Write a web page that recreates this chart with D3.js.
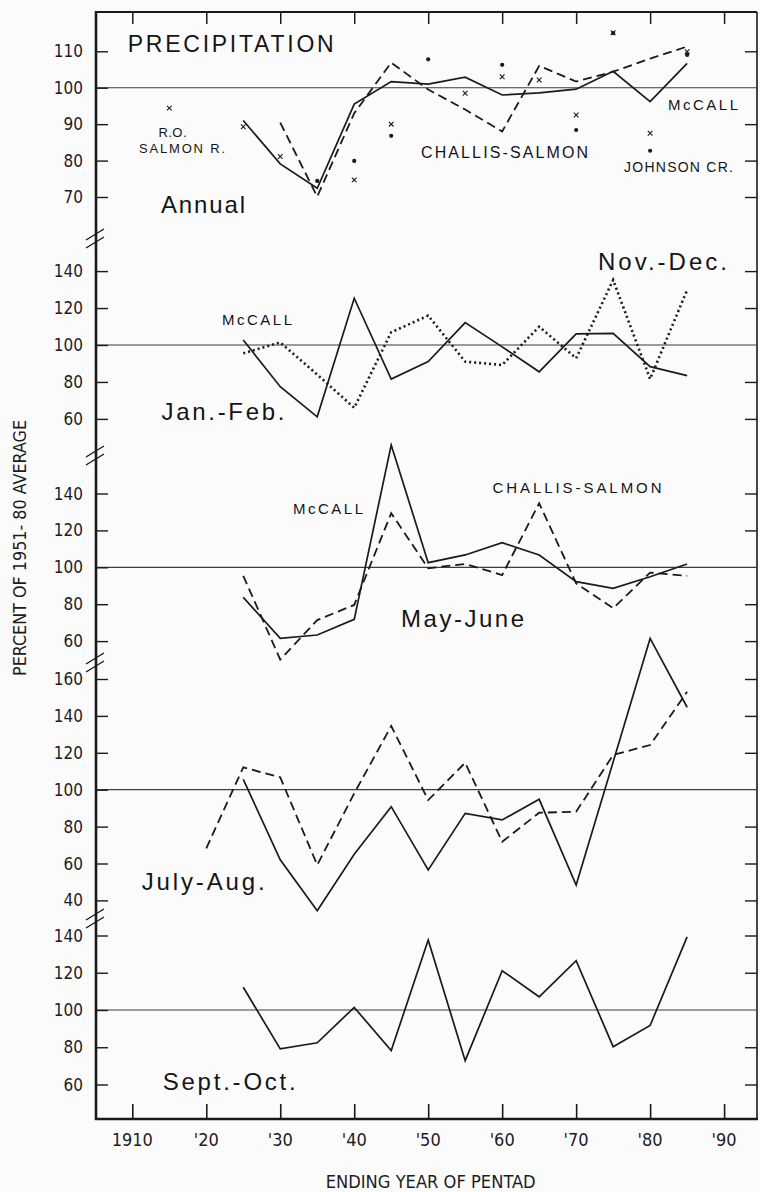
<!DOCTYPE html>
<html>
<head>
<meta charset="utf-8">
<script src="https://cdn.jsdelivr.net/npm/d3@7"></script>
<style>
  html, body { margin: 0; padding: 0; background: #fcfbfc; }
  svg { display: block; }
  .tick-label { font-family: "Liberation Sans Narrow", "DejaVu Sans Condensed", "Roboto Condensed", sans-serif; font-size: 17px; fill: #1c1c1c; }
  .ann { font-family: "Liberation Sans", Arial, Helvetica, sans-serif; fill: #151515; }
</style>
</head>
<body>
<svg id="chart" width="760" height="1192"></svg>
<script>
// Ending year of each pentad
const pentads = [1925, 1930, 1935, 1940, 1945, 1950, 1955, 1960, 1965, 1970, 1975, 1980, 1985];

// Annual precipitation, percent of 1951-80 average
const annualMcCall   = [91, 79.1, 72.4, 95.5, 101.7, 101, 102.9, 98, 98.6, 99.6, 104.5, 96.2, 106.7];
const annualChallisYears = [1930, 1935, 1940, 1945, 1950, 1955, 1960, 1965, 1970, 1975, 1980, 1985];
const annualChallis  = [90.4, 70.1, 93, 106.9, 99.5, 94, 88, 106, 101.7, 104.4, 108, 111.3];
const salmonYears    = [1915, 1925, 1930, 1940, 1945, 1955, 1960, 1965, 1970, 1975, 1980, 1985];
const salmonR        = [94.4, 89.3, 81.1, 74.7, 90, 98.5, 103, 102.1, 92.5, 115.1, 87.5, 109.9];
const johnsonYears   = [1935, 1940, 1945, 1950, 1960, 1970, 1975, 1980, 1985];
const johnsonCr      = [74.4, 79.9, 86.8, 107.8, 106.3, 88.4, 115, 82.7, 109];

// Winter pentads (McCall)
const janFebMcCall   = [102.7, 77.4, 61.1, 125.3, 81.6, 91, 112.1, 99, 85.5, 106, 106.3, 88.3, 83.4];
const novDecMcCall   = [95.5, 101.4, 84, 66, 106.9, 115.9, 91, 89.2, 109.9, 92.8, 135.2, 81.6, 129.8];

// May-June
const mayJunMcCall   = [83.7, 61.5, 63.3, 71.8, 166.3, 102.5, 106.7, 113.3, 106.7, 92.2, 88.6, 94.9, 101.8];
const mayJunChallis  = [95.4, 50, 71.4, 79.6, 129.3, 99.5, 101.8, 95.8, 134.7, 91.3, 77.8, 97.1, 95.4];

// July-August
const julAugMcCall   = [105.6, 62, 34.4, 65, 90.8, 56.5, 87.2, 83.6, 94.8, 48.3, 115, 182, 144.7];
const julAugChallisYears = [1920, 1925, 1930, 1935, 1940, 1945, 1950, 1955, 1960, 1965, 1970, 1975, 1980, 1985];
const julAugChallis  = [68.2, 112.1, 106.7, 59.2, 98, 134.5, 94.4, 114.6, 71.8, 87.5, 88.1, 118.8, 124.2, 153.1];

// September-October
const sepOctMcCall   = [112.2, 79.1, 82.4, 101.4, 78.2, 137.6, 72.8, 121.1, 107.1, 126.5, 80.3, 91.7, 139.3];

// Axis tick values and labels
const decadeTicks  = [1910, 1920, 1930, 1940, 1950, 1960, 1970, 1980, 1990];
const decadeLabels = ["1910", "'20", "'30", "'40", "'50", "'60", "'70", "'80", "'90"];
const annualTicks  = [70, 80, 90, 100, 110];
const seasonTicks  = [60, 80, 100, 120, 140];
const summerTicks  = [40, 60, 80, 100, 120, 140, 160];

// ---- layout ----
const svg = d3.select("#chart");
const frameL = 96, frameR = 757, frameT = 12, frameB = 1119;
const ink = "#1a1a1a";

const x = d3.scaleLinear().domain([1910, 1990]).range([132.3, 724.1]);

// one vertical scale per stacked panel
const yAnnual = d3.scaleLinear().domain([70, 110]).range([197.0, 51.3]);
const yWinter = d3.scaleLinear().domain([60, 140]).range([418.9, 271.1]);
const ySpring = d3.scaleLinear().domain([60, 140]).range([641.1, 493.5]);
const ySummer = d3.scaleLinear().domain([40, 160]).range([900.4, 679.0]);
const yAutumn = d3.scaleLinear().domain([60, 140]).range([1084.5, 935.5]);

const panels = [
  { y: yAnnual, ticks: annualTicks },
  { y: yWinter, ticks: seasonTicks },
  { y: ySpring, ticks: seasonTicks },
  { y: ySummer, ticks: summerTicks },
  { y: yAutumn, ticks: seasonTicks }
];
const breaks = [238, 455, 662, 918];

// frame: top and right borders
svg.append("line").attr("x1", frameL).attr("x2", frameR).attr("y1", frameT).attr("y2", frameT)
  .attr("stroke", ink).attr("stroke-width", 2);
svg.append("line").attr("x1", frameR).attr("x2", frameR).attr("y1", frameT).attr("y2", frameB)
  .attr("stroke", ink).attr("stroke-width", 1.6);

// reference lines at 100 percent and tick marks on both sides
panels.forEach(p => {
  const g = svg.append("g");
  g.append("line").attr("x1", frameL).attr("x2", frameR)
    .attr("y1", p.y(100)).attr("y2", p.y(100))
    .attr("stroke", "#3c3c3c").attr("stroke-width", 1.2);
  const rightAxis = d3.axisLeft(p.y).tickValues(p.ticks.filter(v => v !== 100))
    .tickSize(12).tickFormat("");
  const ra = g.append("g").attr("transform", `translate(${frameR},0)`).call(rightAxis);
  ra.select(".domain").remove();
  ra.selectAll("line").attr("stroke", ink).attr("stroke-width", 1.4);
  const leftAxis = d3.axisRight(p.y).tickValues(p.ticks).tickSize(12).tickFormat("");
  const la = g.append("g").attr("transform", `translate(${frameL},0)`).call(leftAxis);
  la.select(".domain").remove();
  la.selectAll("line").attr("stroke", ink).attr("stroke-width", 1.4);
  g.selectAll("text.tick-label").data(p.ticks).join("text")
    .attr("class", "tick-label")
    .attr("x", 83).attr("y", d => p.y(d))
    .attr("text-anchor", "end").attr("dominant-baseline", "central")
    .text(d => d);
});

// top and bottom decade ticks
const topAxis = d3.axisBottom(x).tickValues(decadeTicks).tickSize(12).tickFormat("");
const ta = svg.append("g").attr("transform", `translate(0,${frameT})`).call(topAxis);
ta.select(".domain").remove();
ta.selectAll("line").attr("stroke", ink).attr("stroke-width", 1.5);

const bottomAxis = d3.axisTop(x).tickValues(decadeTicks).tickSize(15).tickFormat("");
const ba = svg.append("g").attr("transform", `translate(0,${frameB})`).call(bottomAxis);
ba.select(".domain").remove();
ba.selectAll("line").attr("stroke", ink).attr("stroke-width", 1.6);

svg.append("g").selectAll("text").data(decadeTicks).join("text")
  .attr("class", "tick-label")
  .attr("x", d => x(d)).attr("y", 1146)
  .attr("text-anchor", "middle")
  .style("font-size", "18px")
  .text((d, i) => decadeLabels[i]);

// left axis and bottom axis lines
svg.append("line").attr("x1", frameL).attr("x2", frameL).attr("y1", frameT - 1).attr("y2", frameB + 1)
  .attr("stroke", ink).attr("stroke-width", 2.6);
svg.append("line").attr("x1", frameL - 1).attr("x2", frameR + 1).attr("y1", frameB).attr("y2", frameB)
  .attr("stroke", ink).attr("stroke-width", 2.6);

// scale-break marks on the left axis
breaks.forEach(b => {
  [-4, 4].forEach(off => {
    svg.append("line")
      .attr("x1", frameL - 10).attr("y1", b + off + 6)
      .attr("x2", frameL + 8).attr("y2", b + off - 5)
      .attr("stroke", ink).attr("stroke-width", 1.4);
  });
});

// ---- series ----
function series(years, values, y, style) {
  const pts = years.map((yr, i) => [yr, values[i]]);
  const line = d3.line().x(d => x(d[0])).y(d => y(d[1]));
  const path = svg.append("path").datum(pts)
    .attr("d", line).attr("fill", "none")
    .attr("stroke", ink).attr("stroke-linejoin", "miter");
  if (style === "solid") path.attr("stroke-width", 1.7);
  if (style === "dashed") path.attr("stroke-width", 1.8).attr("stroke-dasharray", "9,5");
  if (style === "dotted") path.attr("stroke-width", 2.6).attr("stroke-dasharray", "2,3");
  return path;
}

series(pentads, annualMcCall, yAnnual, "solid");
series(annualChallisYears, annualChallis, yAnnual, "dashed");
series(pentads, janFebMcCall, yWinter, "solid");
series(pentads, novDecMcCall, yWinter, "dotted");
series(pentads, mayJunMcCall, ySpring, "solid");
series(pentads, mayJunChallis, ySpring, "dashed");
series(pentads, julAugMcCall, ySummer, "solid");
series(julAugChallisYears, julAugChallis, ySummer, "dashed");
series(pentads, sepOctMcCall, yAutumn, "solid");

// annual station markers: crosses (R.O. Salmon R.) and dots (Johnson Cr.)
svg.append("g").selectAll("path").data(salmonYears.map((yr, i) => [yr, salmonR[i]])).join("path")
  .attr("d", d3.symbol(d3.symbolX, 16))
  .attr("transform", d => `translate(${x(d[0])},${yAnnual(d[1])})`)
  .attr("fill", "none").attr("stroke", ink).attr("stroke-width", 1.1);
svg.append("g").selectAll("circle").data(johnsonYears.map((yr, i) => [yr, johnsonCr[i]])).join("circle")
  .attr("cx", d => x(d[0])).attr("cy", d => yAnnual(d[1])).attr("r", 2.1)
  .attr("fill", ink);

// ---- annotations ----
const notes = [
  { t: "PRECIPITATION", x: 127.7, y: 52, size: 23, w: 206 },
  { t: "R.O.", x: 158.5, y: 137, size: 13, w: 28 },
  { t: "SALMON R.", x: 139, y: 153, size: 13, w: 86 },
  { t: "CHALLIS-SALMON", x: 421, y: 157.5, size: 16, w: 167 },
  { t: "McCALL", x: 668, y: 110, size: 15, w: 70 },
  { t: "JOHNSON CR.", x: 624, y: 171.5, size: 14, w: 109 },
  { t: "Annual", x: 161, y: 212.5, size: 24, w: 84 },
  { t: "Nov.-Dec.", x: 598, y: 270, size: 24, w: 129 },
  { t: "McCALL", x: 222, y: 325, size: 15, w: 70 },
  { t: "Jan.-Feb.", x: 161.5, y: 420, size: 24, w: 123 },
  { t: "McCALL", x: 293, y: 514, size: 15, w: 70 },
  { t: "CHALLIS-SALMON", x: 492.5, y: 492.5, size: 15, w: 169 },
  { t: "May-June", x: 401, y: 626.5, size: 24, w: 123 },
  { t: "July-Aug.", x: 141.7, y: 890, size: 24, w: 123 },
  { t: "Sept.-Oct.", x: 162.7, y: 1090, size: 24, w: 133 }
];
svg.append("g").selectAll("text").data(notes).join("text")
  .attr("class", "ann")
  .attr("x", d => d.x).attr("y", d => d.y)
  .style("font-size", d => d.size + "px")
  .attr("textLength", d => d.w).attr("lengthAdjust", "spacing")
  .text(d => d.t);

// axis titles
svg.append("text")
  .attr("class", "tick-label")
  .attr("transform", "translate(26,548) rotate(-90)")
  .attr("text-anchor", "middle")
  .style("font-size", "18px")
  .attr("textLength", 256).attr("lengthAdjust", "spacingAndGlyphs")
  .text("PERCENT OF 1951- 80 AVERAGE");

svg.append("text")
  .attr("class", "tick-label")
  .attr("x", 430.7).attr("y", 1188)
  .attr("text-anchor", "middle")
  .style("font-size", "18px")
  .attr("textLength", 210).attr("lengthAdjust", "spacingAndGlyphs")
  .text("ENDING YEAR OF PENTAD");
</script>
</body>
</html>
